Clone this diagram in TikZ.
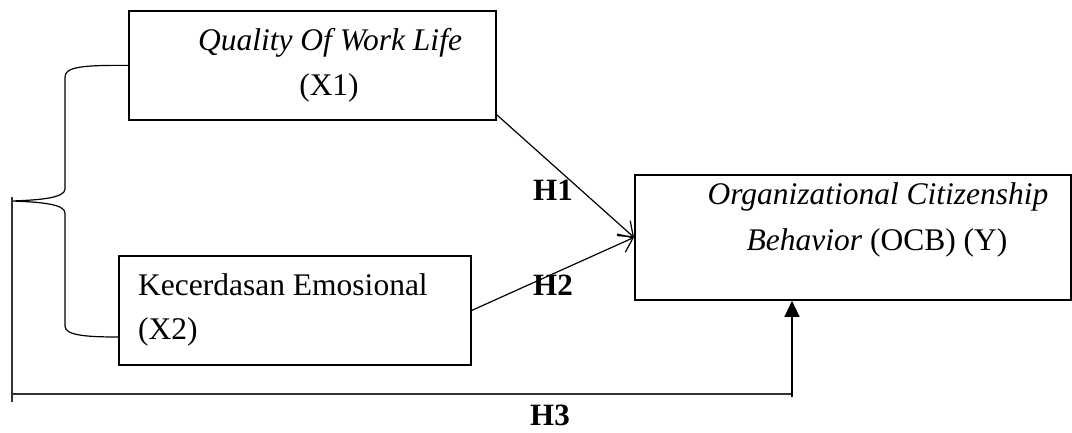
\documentclass[tikz,border=0pt]{standalone}
\usepackage{fontspec}
\setmainfont{Liberation Serif}
\usetikzlibrary{arrows.meta,calc}
\begin{document}
\begin{tikzpicture}[x=1pt,y=-1pt,
  box/.style={draw,line width=1.8pt,inner sep=0pt,anchor=north west},
  txt/.style={inner sep=0pt,anchor=base,font=\fontsize{31.5}{37}\selectfont},
  txtl/.style={inner sep=0pt,anchor=base west,font=\fontsize{31.5}{37}\selectfont},
  lbl/.style={inner sep=0pt,anchor=base west,font=\fontsize{31}{37}\selectfont\bfseries},
  conn/.style={line width=1.2pt},
  openarrow/.style={conn,-{Straight Barb[length=13pt,width=20pt,line width=1.2pt]}},
  solidarrow/.style={conn,-{Triangle[length=16pt,width=15pt]}},
  bline/.style={line width=1.5pt,draw=black!80}
]
\useasboundingbox (0,0) rectangle (1072,432);
% boxes
\node[box,minimum width=367pt,minimum height=109pt] (x1) at (128,10) {};
\node[box,minimum width=352pt,minimum height=109pt] (x2) at (118,255) {};
\node[box,minimum width=436pt,minimum height=125pt] (y) at (634,174) {};
% texts
\node[txt] (x1a) at (330,50) {\itshape Quality Of Work Life};
\node[txt] (x1b) at (329,95) {(X1)};
\node[txtl] (x2a) at (138,295) {Kecerdasan Emosional};
\node[txtl] (x2b) at (138,339) {(X2)};
\node[txt] (ya) at (878,204) {\itshape Organizational Citizenship};
\node[txt] (yb) at (877,250) {\textit{Behavior} (OCB) (Y)};
% labels
\node[lbl] (h1) at (533,200) {H1};
\node[lbl] (h2) at (533,295) {H2};
\node[lbl] (h3) at (530,425) {H3};
% coordinates
\coordinate (tip) at (12,201);
\coordinate (vtop) at (12,197);
\coordinate (vbot) at (12,402);
\coordinate (bl) at (12,394);
\coordinate (br) at (792,394);
\coordinate (brlow) at (792,397);
\coordinate (x2arm) at (118,337);
% arrows H1, H2
\draw[openarrow] ($(x1.south east)+(0,-6)$) -- (y.west);
\draw[openarrow] (x2.east) -- (y.west);
% brace
\draw[conn] (x1.west) .. controls (82,65) and (65,67) .. (65,77)
  -- (65,189) .. controls (65,198) and (40,200) .. (tip)
  .. controls (40,202) and (65,204) .. (65,213)
  -- (65,326) .. controls (65,335) and (84,337) .. (x2arm);
% H3
\draw[bline] (vtop) -- (vbot);
\draw[bline] (bl) -- (br);
\draw[solidarrow] (brlow) -- (br |- y.south);
\end{tikzpicture}
\end{document}
